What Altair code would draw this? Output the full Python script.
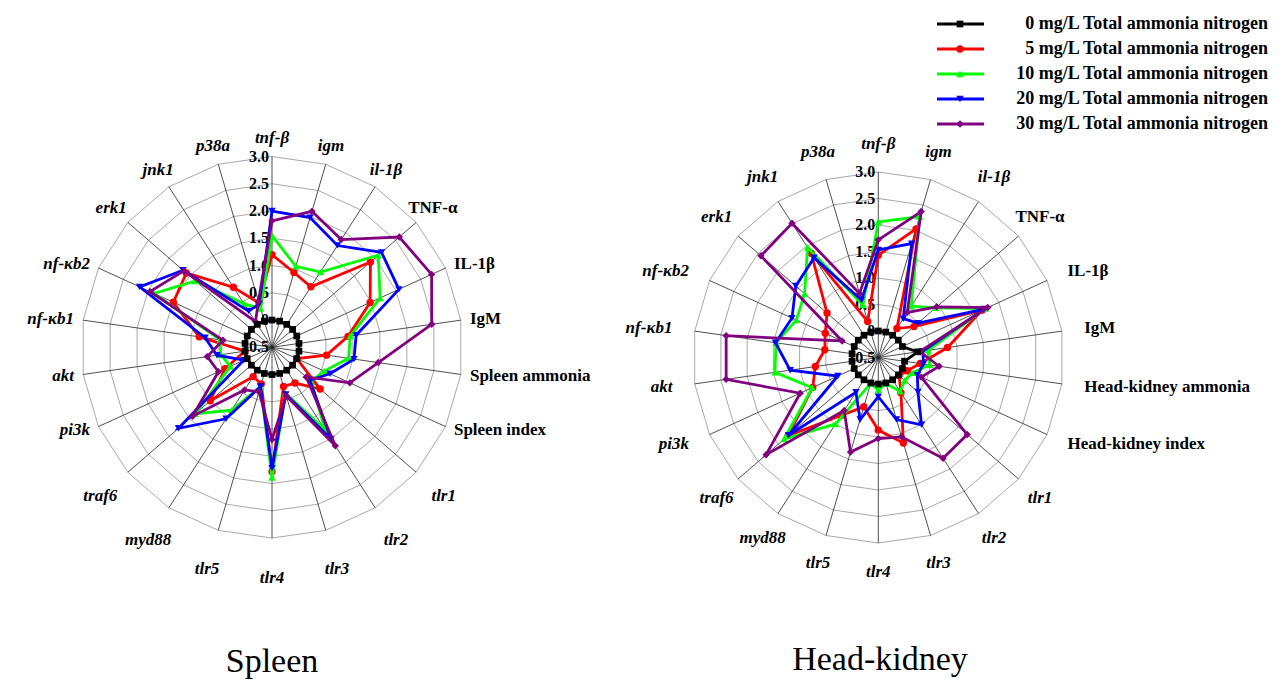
import math
import altair as alt
import pandas as pd

# ---------------- data ----------------
SERIES = ["0 mg/L Total ammonia nitrogen", "5 mg/L Total ammonia nitrogen",
          "10 mg/L Total ammonia nitrogen", "20 mg/L Total ammonia nitrogen",
          "30 mg/L Total ammonia nitrogen"]
COLORS = ["#000000", "#ff0000", "#00ff00", "#0000ff", "#800080"]
SHAPES = ["square", "circle", "triangle-up", "triangle-down", "diamond"]

spleen_cats = ["tnf-β", "igm", "il-1β", "TNF-α", "IL-1β", "IgM", "Spleen ammonia",
               "Spleen index", "tlr1", "tlr2", "tlr3", "tlr4", "tlr5", "myd88", "traf6",
               "pi3k", "akt", "nf-κb1", "nf-κb2", "erk1", "jnk1", "p38a"]
hk_cats = ["tnf-β", "igm", "il-1β", "TNF-α", "IL-1β", "IgM", "Head-kidney ammonia",
           "Head-kidney index", "tlr1", "tlr2", "tlr3", "tlr4", "tlr5", "myd88", "traf6",
           "pi3k", "akt", "nf-κb1", "nf-κb2", "erk1", "jnk1", "p38a"]
plain_labels = ["TNF-α", "IL-1β", "IgM", "Spleen ammonia", "Spleen index",
                "Head-kidney ammonia", "Head-kidney index"]

spleen_0 = [0.00, 0.00, 0.00, 0.00, 0.00, 0.00, 0.00, 0.00, 0.00, 0.00, 0.00,
            0.00, 0.00, 0.00, 0.00, 0.00, 0.00, 0.00, 0.00, 0.00, 0.00, 0.00]
spleen_5 = [1.20, 0.93, 0.82, 1.89, 1.48, 0.91, 0.51, 0.00, 0.67, 0.28, 0.25,
            1.78, 0.20, 0.14, 1.00, 0.45, 0.00, 0.85, 1.49, 1.58, 0.81, 0.35]
spleen_10 = [1.55, 1.05, 1.14, 2.08, 1.68, 0.95, 0.92, 0.55, 0.45, 1.30, 0.38,
             1.89, 0.25, 0.87, 1.36, 0.34, 0.45, 0.46, 1.88, 1.36, 0.45, 0.24]
spleen_20 = [2.00, 1.98, 1.72, 2.16, 2.06, 1.06, 1.02, 0.67, 0.42, 1.50, 0.40,
             1.72, 0.25, 1.06, 1.77, 0.07, 0.52, 0.74, 2.17, 1.66, 0.29, 0.33]
spleen_30 = [1.82, 2.10, 1.85, 2.59, 2.72, 2.46, 1.47, 1.07, 0.33, 1.65, 0.43,
             1.19, 0.35, 0.43, 1.43, 0.58, 0.70, 0.41, 1.96, 1.64, 0.06, 0.38]

hk_0 = [0.00, 0.00, 0.00, 0.00, 0.00, 0.25, 0.00, 0.00, 0.00, 0.00, 0.00,
        0.00, 0.00, 0.00, 0.00, 0.00, 0.00, 0.00, 0.00, 0.00, 0.00, 0.00]
hk_5 = [1.43, 2.03, 0.15, 0.39, 1.65, 0.82, 0.30, 0.10, 0.02, 0.29, 1.18,
        0.87, 0.47, 0.80, 1.75, 0.86, 0.70, 0.52, 0.60, 0.78, 1.84, 0.21]
hk_10 = [2.06, 2.27, 0.65, 0.93, 1.72, 0.45, 0.48, 0.20, 0.16, 0.26, 0.01,
         0.11, 0.01, 0.99, 1.85, 0.87, 1.47, 1.45, 1.20, 1.34, 1.97, 0.53]
hk_20 = [1.53, 1.74, 0.37, 0.49, 1.70, 0.35, 0.36, 0.31, 0.49, 1.01, 0.72,
         0.24, 0.72, 0.28, 1.74, 0.34, 1.18, 1.46, 1.29, 1.56, 1.74, 0.63]
hk_30 = [1.72, 2.37, 0.51, 0.96, 1.77, 0.29, 0.66, 0.39, 1.72, 1.76, 1.06,
         1.03, 1.36, 0.69, 2.30, 1.12, 2.40, 2.40, 0.25, 2.43, 2.51, 0.76]

tick_values = [3.0, 2.5, 2.0, 1.5, 1.0, 0.5, 0.0, -0.5]
tick_texts = ["3.0", "2.5", "2.0", "1.5", "1.0", "0.5", "0", "-0.5"]
ring_values = [0.0, 0.5, 1.0, 1.5, 2.0, 2.5, 3.0]
panel_titles = ["Spleen", "Head-kidney"]

# ---------------- layout (pixels) ----------------
N = 22
L = dict(cx=272.0, cy=347.3, s=54.5, edge=200, cr0=220, crc=-11, tx=272, ty=662)
R = dict(cx=878.3, cy=357.5, s=53.0, edge=208, cr0=214, crc=0, tx=880, ty=660)
FONT = "Liberation Serif"


def P(key):
    return f"(datum.panel == 'Spleen' ? {L[key]} : {R[key]})"


def polar(ch, valfield="v"):
    return (ch.transform_calculate(theta=f"datum.k * 2 * PI / {N}")
              .transform_calculate(rad=f"(datum.{valfield} + 0.5) * {P('s')}")
              .transform_calculate(px=f"{P('cx')} + datum.rad * sin(datum.theta)")
              .transform_calculate(py=f"{P('cy')} - datum.rad * cos(datum.theta)"))


XS = alt.Scale(domain=[8, 1276], nice=False, zero=False)
YS = alt.Scale(domain=[8, 672], nice=False, zero=False, reverse=True)
X = alt.X("px:Q", scale=XS, axis=None)
Y = alt.Y("py:Q", scale=YS, axis=None)

panels = {"Spleen": [spleen_0, spleen_5, spleen_10, spleen_20, spleen_30],
          "Head-kidney": [hk_0, hk_5, hk_10, hk_20, hk_30]}
cats = {"Spleen": spleen_cats, "Head-kidney": hk_cats}

# series table
rows = []
for pname, sers in panels.items():
    for si, vals in enumerate(sers):
        for k in range(N + 1):
            rows.append(dict(panel=pname, series=SERIES[si], si=si, k=k, v=vals[k % N]))
sdf = pd.DataFrame(rows)

# grid rings
grows = []
for pname in panels:
    for lv in ring_values:
        for k in range(N + 1):
            grows.append(dict(panel=pname, ring=f"{pname}{lv}", k=k, v=lv))
gdf = pd.DataFrame(grows)

# spokes
spdf = pd.DataFrame([dict(panel=p, k=k, v=3.0) for p in panels for k in range(N)])

# ticks
tdf = pd.DataFrame([dict(panel=p, k=0, v=tv, t=tt) for p in panels
                    for tv, tt in zip(tick_values, tick_texts)])

# category labels
lrows = []
for pname, cl in cats.items():
    for k, lab in enumerate(cl):
        s = math.sin(2 * math.pi * k / N)
        grp = "left" if s > 0.8 else ("right" if s < -0.8 else "center")
        lrows.append(dict(panel=pname, k=k, label=lab, grp=grp,
                          ital="normal" if lab in plain_labels else "italic"))
ldf = pd.DataFrame(lrows)

layers = []

rings = polar(alt.Chart(gdf)).mark_line(color="#a8a8a8", strokeWidth=1).encode(
    x=X, y=Y, detail="ring:N", order="k:Q")
layers.append(rings)

spokes = polar(alt.Chart(spdf)).transform_calculate(
    px0=P("cx"), py0=P("cy")).mark_rule(color="#222222", strokeWidth=0.8).encode(
    x=alt.X("px0:Q", scale=XS, axis=None), y=alt.Y("py0:Q", scale=YS, axis=None),
    x2="px:Q", y2="py:Q")
layers.append(spokes)

ticks = polar(alt.Chart(tdf)).transform_calculate(pxt=f"datum.px - 3").mark_text(
    align="right", baseline="middle", font=FONT, fontSize=16, fontWeight="bold",
    color="#000000").encode(x=alt.X("pxt:Q", scale=XS, axis=None), y=Y, text="t:N")
layers.append(ticks)

for grp in ["left", "center", "right"]:
    for ital in ["normal", "italic"]:
        c = (alt.Chart(ldf)
             .transform_filter(f"datum.grp == '{grp}' && datum.ital == '{ital}'")
             .transform_calculate(theta=f"datum.k * 2 * PI / {N}")
             .transform_calculate(
                 rl=(f"datum.grp == 'center' ? ({P('cr0')} + {P('crc')} * cos(datum.theta))"
                     f" : {P('edge')}"))
             .transform_calculate(px=f"{P('cx')} + datum.rl * sin(datum.theta)")
             .transform_calculate(py=f"{P('cy')} - datum.rl * cos(datum.theta)")
             .mark_text(align=grp, baseline="middle", font=FONT, fontSize=17,
                        fontWeight="bold", fontStyle=ital, color="#000000")
             .encode(x=X, y=Y, text="label:N"))
        layers.append(c)

draw_order = [1, 2, 3, 4, 0]
for si in draw_order:
    sub = sdf[sdf.si == si]
    line = polar(alt.Chart(sub)).mark_line(color=COLORS[si], strokeWidth=2.8).encode(
        x=X, y=Y, detail="panel:N", order="k:Q")
    pts = polar(alt.Chart(sub[sub.k < N])).mark_point(
        shape=SHAPES[si], filled=True, size=55 if si else 45, color=COLORS[si],
        opacity=1).encode(x=X, y=Y)
    layers += [line, pts]

# legend
legdf = pd.DataFrame(dict(i=list(range(5)), name=SERIES, color=COLORS))
leg_base = alt.Chart(legdf).transform_calculate(py="24 + datum.i * 25")
for si in range(5):
    one = leg_base.transform_filter(f"datum.i == {si}")
    layers.append(one.transform_calculate(a="937", b="984").mark_rule(
        color=COLORS[si], strokeWidth=2.8).encode(
        x=alt.X("a:Q", scale=XS, axis=None), x2="b:Q", y=Y))
    layers.append(one.transform_calculate(px="960").mark_point(
        shape=SHAPES[si], filled=True, size=55 if si else 45, color=COLORS[si],
        opacity=1).encode(x=X, y=Y))
layers.append(leg_base.transform_calculate(px="1268").mark_text(
    align="right", baseline="middle", font=FONT, fontSize=18, fontWeight="bold",
    color="#000000").encode(x=X, y=Y, text="name:N"))

# panel titles
titdf = pd.DataFrame(dict(panel=panel_titles))
layers.append(alt.Chart(titdf).transform_calculate(px=P("tx"), py=P("ty")).mark_text(
    align="center", baseline="middle", font=FONT, fontSize=34, color="#000000").encode(
    x=X, y=Y, text="panel:N"))

chart = alt.layer(*layers).properties(width=1268, height=664, padding=0,
                                       background="#ffffff").configure_view(stroke=None)
chart.save("out.html", embed_options={"renderer": "svg", "actions": False})
